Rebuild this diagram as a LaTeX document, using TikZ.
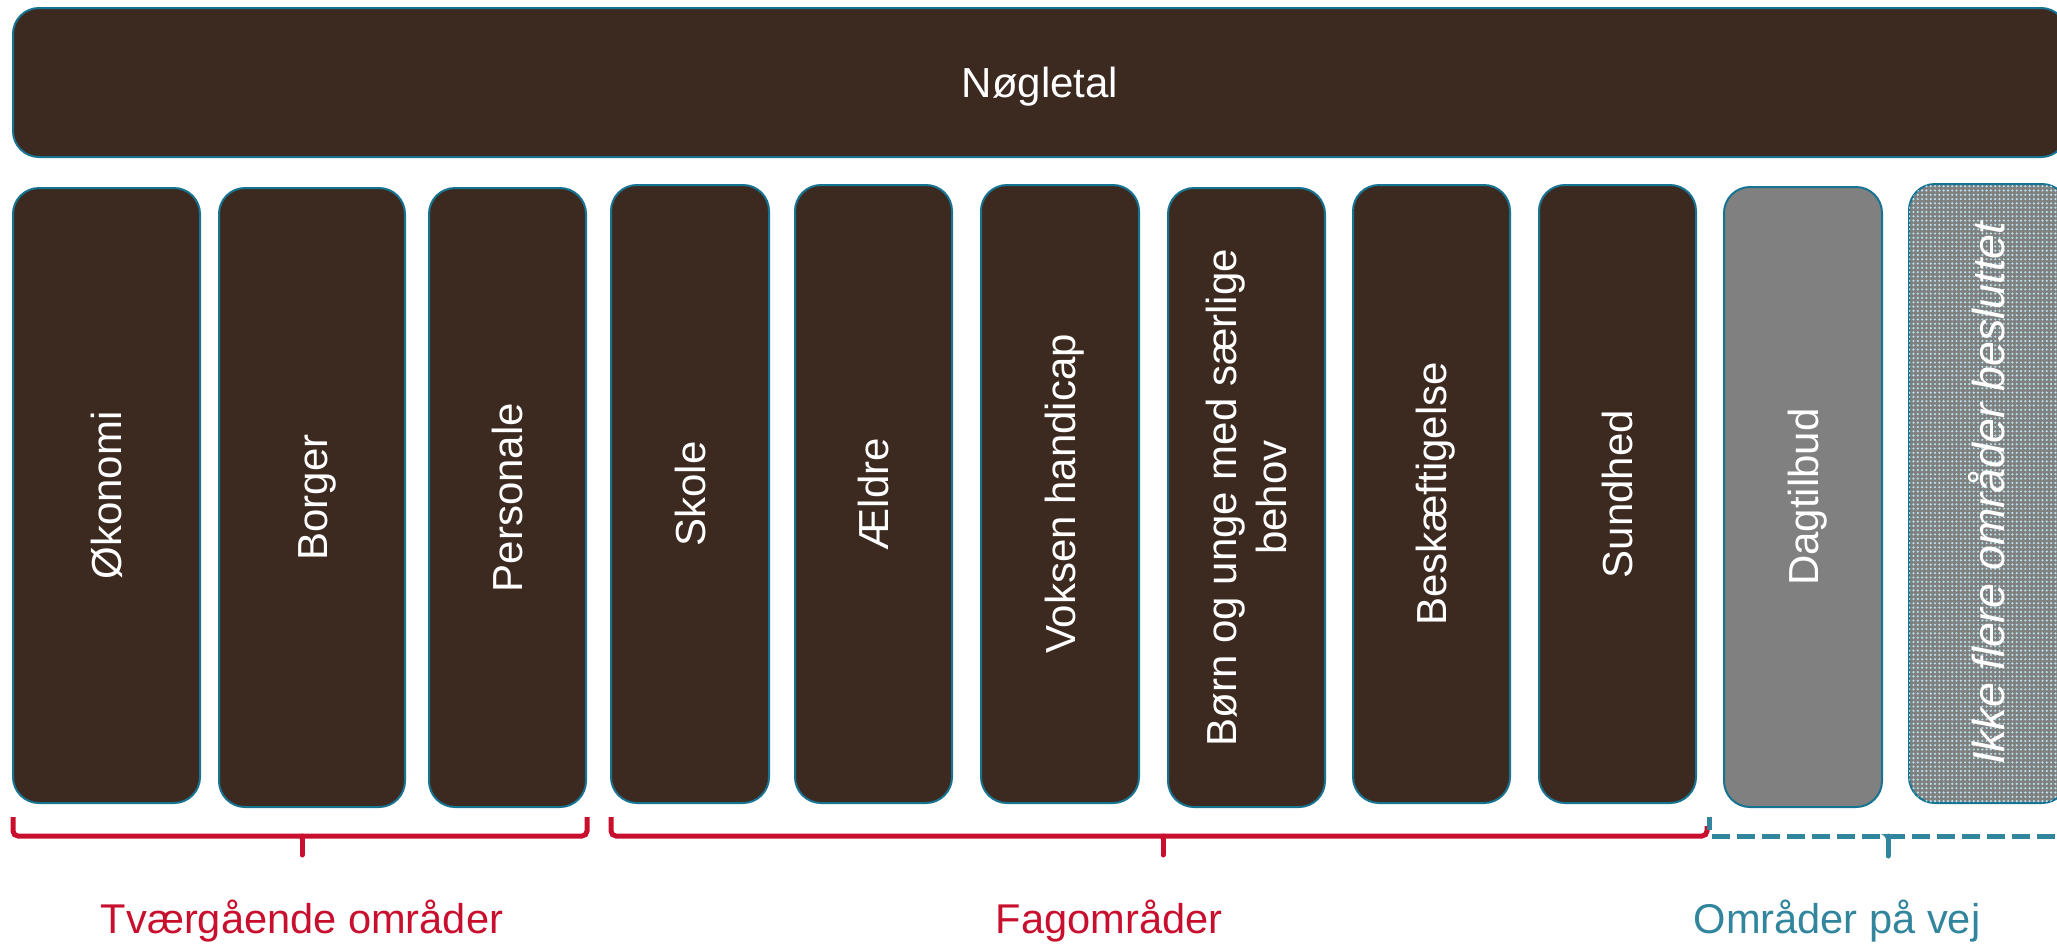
\documentclass[tikz,border=0pt]{standalone}
\usepackage{fontspec}
\setmainfont{Liberation Sans}
\usetikzlibrary{patterns.meta}
\definecolor{boxbrown}{RGB}{60,42,33}
\definecolor{edgeblue}{RGB}{22,115,145}
\definecolor{bracered}{RGB}{200,16,46}
\definecolor{braceteal}{RGB}{49,133,156}
\definecolor{dotblue}{RGB}{185,228,238}
\definecolor{boxgrey}{RGB}{128,128,128}
\begin{document}
\begin{tikzpicture}[x=0.5pt,y=-0.5pt,
  box/.style={draw=edgeblue, line width=1pt, rounded corners=13pt, fill=boxbrown, inner sep=0pt},
  bigfont/.style={font=\fontsize{21}{25}\selectfont},
  vtext/.style={bigfont, rotate=90, text=white, text height=15pt, text depth=0pt, inner sep=0pt},
  htext/.style={bigfont, text=white, text height=15pt, text depth=0pt, inner sep=0pt},
  lbl/.style={font=\fontsize{20.8}{25}\selectfont, anchor=base, inner sep=0pt},
  redbrace/.style={draw=bracered, line width=2.5pt, rounded corners=2.5pt},
  tealbrace/.style={draw=braceteal, line width=2.5pt},
  bracetip/.style={line width=2.5pt, line cap=round}
]
\useasboundingbox (0,0) rectangle (2057,943);
% top box
\node[box, minimum width=1027pt, minimum height=74.5pt] (top) at (1040,82.5) {};
\node[htext] (toptext) at (top) {Nøgletal};
% column boxes
\node[box, minimum width=93.5pt, minimum height=307.5pt] (b1) at (106.5,495.5) {};
\node[box, minimum width=93pt, minimum height=309.5pt] (b2) at (312,497.5) {};
\node[box, minimum width=78.5pt, minimum height=309.5pt] (b3) at (507.5,497.5) {};
\node[box, minimum width=79pt, minimum height=309pt] (b4) at (690,494) {};
\node[box, minimum width=78.5pt, minimum height=309pt] (b5) at (873.5,494) {};
\node[box, minimum width=79pt, minimum height=309pt] (b6) at (1060,494) {};
\node[box, minimum width=78.5pt, minimum height=309.5pt] (b7) at (1246.5,497.5) {};
\node[box, minimum width=78.5pt, minimum height=309pt] (b8) at (1431.5,494) {};
\node[box, minimum width=78.5pt, minimum height=309pt] (b9) at (1617.5,494) {};
\node[box, fill=boxgrey, minimum width=79pt, minimum height=310pt] (b10) at (1803,497) {};
\node[box, fill=boxgrey, minimum width=79.5pt, minimum height=309.5pt,
  postaction={pattern={Dots[distance=2.15pt, radius=0.6pt]}, pattern color=dotblue}] (b11) at (1988.5,493.5) {};
% column texts
\node[vtext] (t1) at (b1) {Økonomi};
\node[vtext] (t2) at (b2) {Borger};
\node[vtext] (t3) at (b3) {Personale};
\node[vtext] (t4) at (b4) {Skole};
\node[vtext] (t5) at (b5) {Ældre};
\node[vtext] (t6) at (b6) {Voksen handicap};
\node[bigfont, rotate=90, text=white, align=center, inner sep=0pt] (t7) at (b7) {Børn og unge med særlige\\behov};
\node[vtext] (t8) at (b8) {Beskæftigelse};
\node[vtext] (t9) at (b9) {Sundhed};
\node[vtext] (t10) at (b10) {Dagtilbud};
\node[vtext, font=\fontsize{22.4}{26}\selectfont\itshape, text height=16pt] (t11) at (b11) {Ikke flere områder besluttet};
% brace coordinates
\coordinate (r1a) at (13,817);
\coordinate (r1b) at (587,836);
\coordinate (r1c) at (587,817);
\coordinate (r1t) at (302,836);
\coordinate (r1e) at (302,855);
\coordinate (r2a) at (611,817);
\coordinate (r2b) at (1707,836);
\coordinate (r2c) at (1707,826);
\coordinate (r2t) at (1163,836);
\coordinate (r2e) at (1163,855);
\coordinate (baS) at (1709,817);
\coordinate (baE) at (1709,830);
\coordinate (bdS) at (1712,836);
\coordinate (bdE) at (2070,836);
\coordinate (bt) at (1888,836);
\coordinate (be) at (1888,856);
% red braces
\draw[redbrace] (r1a) |- (r1b) -- (r1c);
\draw[draw=bracered, bracetip] (r1t) -- (r1e);
\fill[bracered] (295,834) .. controls (300,836) and (300.5,839) .. (300.5,846) -- (303.5,846) .. controls (303.5,839) and (304,836) .. (309,834) -- cycle;
\draw[redbrace] (r2a) |- (r2b) -- (r2c);
\draw[draw=bracered, bracetip] (r2t) -- (r2e);
\fill[bracered] (1156,834) .. controls (1161,836) and (1161.5,839) .. (1161.5,846) -- (1164.5,846) .. controls (1164.5,839) and (1165,836) .. (1170,834) -- cycle;
% teal dashed brace
\draw[tealbrace] (baS) -- (baE);
\draw[tealbrace, dash pattern=on 9pt off 3.5pt] (bdS) -- (bdE);
\draw[draw=braceteal, bracetip] (bt) -- (be);
\fill[braceteal] (1881,834) .. controls (1886,836) and (1886.5,839) .. (1886.5,846) -- (1889.5,846) .. controls (1889.5,839) and (1890,836) .. (1895,834) -- cycle;
% labels
\node[lbl, text=bracered] (l1) at (302,933) {Tværgående områder};
\node[lbl, text=bracered] (l2) at (1109,933) {Fagområder};
\node[lbl, text=braceteal] (l3) at (1837,933) {Områder på vej};
\end{tikzpicture}
\end{document}
